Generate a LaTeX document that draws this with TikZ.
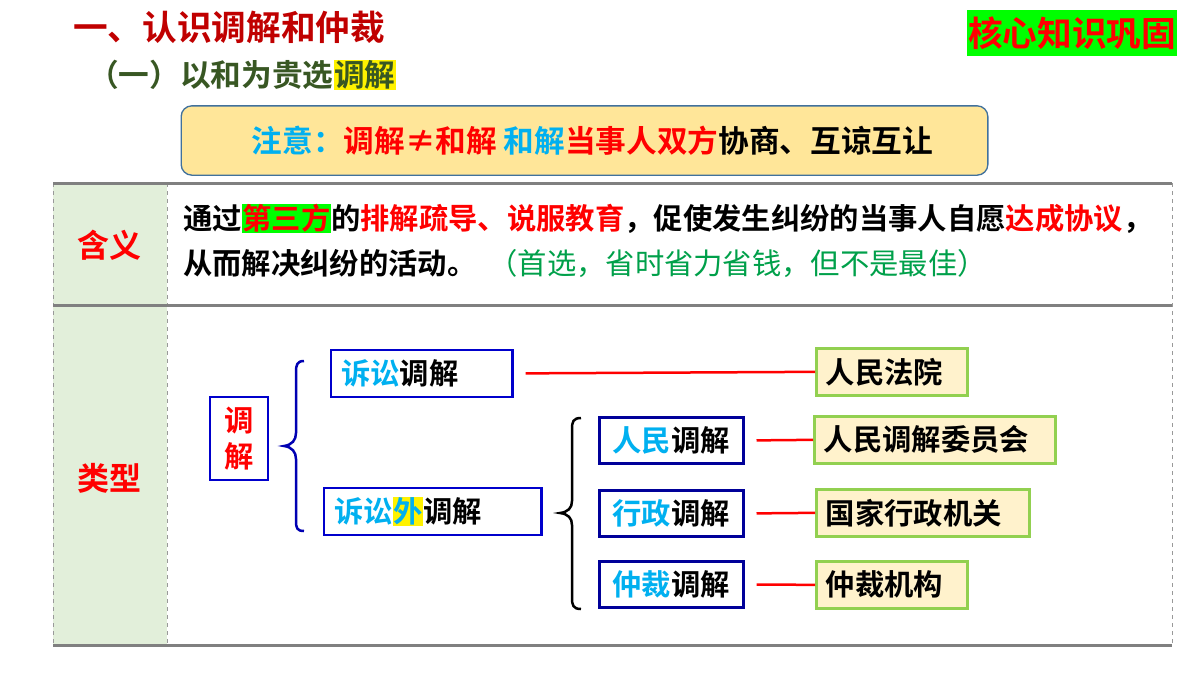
\documentclass[tikz,border=0pt]{standalone}
\usepackage{fontspec}
\setmainfont{Noto Sans CJK SC}[BoldFont={* Bold}]
\newfontfamily\cjklight{Noto Sans CJK SC}
\usetikzlibrary{positioning}
\definecolor{dred}{HTML}{C00000}
\definecolor{olive}{HTML}{385723}
\definecolor{cyanb}{HTML}{00B0F0}
\definecolor{notefill}{HTML}{FFE699}
\definecolor{noteline}{HTML}{41719C}
\definecolor{colfill}{HTML}{E2EFDA}
\definecolor{lgreen}{HTML}{92D050}
\definecolor{cream}{HTML}{FFF2CC}
\definecolor{hl}{HTML}{00FF00}
\definecolor{gtext}{HTML}{00A04A}
\definecolor{dblue}{HTML}{000099}
\newcommand{\hlbox}[2]{{\setlength\fboxsep{0.5pt}\colorbox{#1}{#2}}}
\begin{document}
\bfseries
\begin{tikzpicture}[x=0.75pt,y=-0.75pt,
  txt/.style={inner sep=0pt,anchor=west,font=\fontsize{22}{26}\selectfont\bfseries},
  typ/.style={draw=blue!80!black,line width=2.2pt*0.75,fill=white,minimum height=35pt,anchor=north west,inner ysep=0pt,inner xsep=7.5pt,align=left,font=\fontsize{22}{26}\selectfont\bfseries},
  sub/.style={draw=dblue,line width=3pt*0.75,fill=white,minimum width=108pt,minimum height=35pt,inner sep=0pt,font=\fontsize{22}{26}\selectfont\bfseries},
  org/.style={draw=lgreen,line width=3pt*0.75,fill=cream,minimum height=35pt,inner ysep=0pt,inner xsep=7pt,align=left,anchor=north west,font=\fontsize{22}{26}\selectfont\bfseries},
  link/.style={red,line width=2.5pt*0.75},
  tline/.style={draw=gray,line width=3pt*0.75},
  vline/.style={draw=gray!80,line width=0.7pt,dashed}]
\useasboundingbox (0,0) rectangle (1200,675);
% titles
\node[txt,text=dred,font=\fontsize{26}{30}\selectfont\bfseries] (t1) at (73,27) {一、认识调解和仲裁};
\node[txt,text=olive,font=\fontsize{23}{28}\selectfont\bfseries] (t2) at (88,75) {（一）以和为贵选\hlbox{yellow}{调解}};
\node[fill=hl,inner sep=1pt,minimum width=158pt,minimum height=34pt,text=red,font=\fontsize{26}{30}\selectfont\bfseries] (core) at (1072,33) {核心知识巩固};
% note
\node[draw=noteline,line width=1pt,fill=notefill,rounded corners=8pt,minimum width=605pt,minimum height=52pt,inner sep=0pt,font=\fontsize{23}{28}\selectfont\bfseries] (note) at (584.5,140.5)
 {\hspace{12pt}\textcolor{cyanb}{注意：}\textcolor{red}{调解≠和解} \textcolor{cyanb}{和解}\textcolor{red}{当事人双方}协商、互谅互让};
% table
\fill[colfill] (53,183) rectangle (167,645);
\draw[vline] (53,183) -- (53,645);
\draw[vline] (167,183) -- (167,645);
\draw[vline] (1172,183) -- (1172,645);
\draw[tline] (53,183) -- (1172,183);
\draw[tline] (53,305) -- (1172,305);
\draw[tline] (53,645) -- (1172,645);
\node[text=red,font=\fontsize{24}{28}\selectfont\bfseries] (hy) at (109,245) {含义};
\node[text=red,font=\fontsize{24}{28}\selectfont\bfseries] (lx) at (109,478) {类型};
\node[txt] (l1) at (183,219) {通过\hlbox{hl}{\textcolor{red}{第三方}}的\textcolor{red}{排解疏导、说服教育}，促使发生纠纷的当事人自愿\textcolor{red}{达成协议}，};
\node[txt] (l2) at (183,264) {从而解决纠纷的活动。\hspace{0.4em}{\mdseries\cjklight\textcolor{gtext}{（首选，省时省力省钱，但不是最佳）}}};
% tree
\node[draw=blue!80!black,line width=2.2pt*0.75,fill=white,inner sep=0pt,minimum width=43pt,minimum height=62pt,align=center,text=red,font=\fontsize{22}{27}\selectfont\bfseries] (tj) at (239,438.5) {调\\解};
\node[typ,text width=121pt] (ss) at (330,349) {\textcolor{cyanb}{诉讼}调解};
\node[typ,text width=148pt] (sw) at (323,487) {\textcolor{cyanb}{诉讼\hlbox{yellow}{外}}调解};
\draw[blue!70!black,line width=2.5pt*0.75] (304,361) .. controls (297,361) and (296,365) .. (296,372) -- (296,433) .. controls (296,440) and (292,445) .. (284,446) .. controls (292,447) and (296,452) .. (296,459) -- (296,521) .. controls (296,528) and (297,531) .. (304,531);
\draw[black,line width=2.5pt*0.75] (581,418) .. controls (573,418) and (572,422) .. (572,429) -- (572,501) .. controls (572,508) and (568,512) .. (560,513) .. controls (568,514) and (572,518) .. (572,525) -- (572,598) .. controls (572,605) and (573,609) .. (581,609);
\node[sub] (rm) at (671,440.5) {\textcolor{cyanb}{人民}调解};
\node[sub] (xz) at (671,513.5) {\textcolor{cyanb}{行政}调解};
\node[sub] (zc) at (671,584.5) {\textcolor{cyanb}{仲裁}调解};
\node[org,text width=99pt] (fy) at (815,347) {人民法院};
\node[org,text width=167pt] (wy) at (813,415) {人民调解委员会};
\node[org,text width=146pt] (jg) at (815,488) {国家行政机关};
\node[org,text width=99pt] (jj) at (815,560) {仲裁机构};
\draw[link,shorten <=12pt*0.75] (ss.east) -- (fy.west);
\draw[link,shorten <=12pt*0.75] (rm.east) -- (wy.west);
\draw[link,shorten <=12pt*0.75] (xz.east) -- (jg.west);
\draw[link,shorten <=12pt*0.75] (zc.east) -- (jj.west);
\end{tikzpicture}
\end{document}
